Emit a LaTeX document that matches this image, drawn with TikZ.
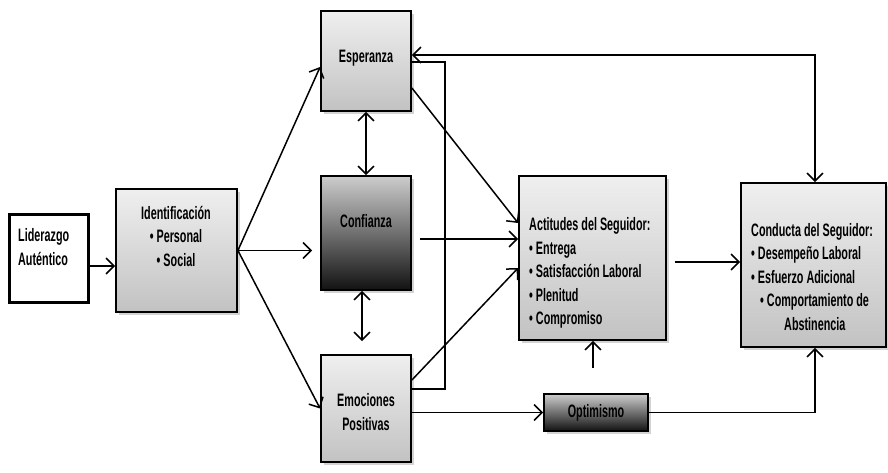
\documentclass[tikz,border=0pt]{standalone}
\usepackage{fontspec}
\setmainfont{Liberation Sans}[FakeStretch=0.6]
\usetikzlibrary{arrows.meta,shadows,calc}
\definecolor{lt}{HTML}{EFEFEF}
\definecolor{lb}{HTML}{C2C2C2}
\definecolor{dt}{HTML}{CDCDCD}
\definecolor{db}{HTML}{121212}
\begin{document}
\begin{tikzpicture}[x=1pt,y=-1pt,
  box/.style={draw=black, line width=1.8pt, inner sep=0pt, top color=lt, bottom color=lb,
    drop shadow={shadow xshift=2.5pt,shadow yshift=-2.5pt,opacity=0.35}},
  darkbox/.style={box, top color=dt, bottom color=db},
  lidbox/.style={draw=black, line width=3.2pt, fill=white, inner sep=0pt},
  txt/.style={font=\bfseries\fontsize{18}{23.5}\selectfont, inner sep=0pt},
  arr/.style={line width=1.5pt, -{Straight Barb[length=8pt,width=16pt]}},
  darr/.style={line width=1.5pt, {Straight Barb[length=8pt,width=16pt]}-{Straight Barb[length=8pt,width=16pt]}},
  ln/.style={line width=1.5pt}]
\useasboundingbox (0,0) rectangle (888,472);
% boxes
\node[lidbox, minimum width=79pt, minimum height=88pt] (lid) at (49,258.5) {};
\node[box, minimum width=121pt, minimum height=123pt] (id) at (176.5,250.5) {};
\node[box, minimum width=90pt, minimum height=100pt] (esp) at (366,61) {};
\node[darkbox, minimum width=90pt, minimum height=114pt] (con) at (366,233) {};
\node[box, minimum width=90pt, minimum height=107pt] (emo) at (366,408.5) {};
\node[box, minimum width=147pt, minimum height=164pt] (act) at (592.5,258) {};
\node[box, minimum width=145pt, minimum height=164pt] (cond) at (813.5,265) {};
\node[darkbox, minimum width=104pt, minimum height=37pt] (opt) at (596,412.5) {};
% texts
\node[txt, align=left, anchor=west] (lidT) at (18,247) {Liderazgo\\Auténtico};
\node[txt, align=center] (idT) at (176,236) {Identificación\\• Personal\\• Social};
\node[txt] (espT) at (366,58.5) {Esperanza};
\node[txt] (conT) at (366,221.5) {Confianza};
\node[txt, align=center] (emoT) at (366,412) {Emociones\\Positivas};
\node[txt, align=left, anchor=west] (actT) at (529,273) {Actitudes del Seguidor:\\• Entrega\\• Satisfacción Laboral\\• Plenitud\\• Compromiso};
\node[txt, align=left, anchor=west] (condT) at (751,277) {Conducta del Seguidor:\\• Desempeño Laboral\\• Esfuerzo Adicional\\\hspace*{9pt}• Comportamiento de\\\hspace*{33pt}Abstinencia};
\node[txt] (optT) at (596,413) {Optimismo};
% connectors
\coordinate (a1) at ([yshift=-7.5pt]lid.east);
\draw[arr] (a1) -- (a1 -| id.west);
\draw[arr] (id.east) -- ([yshift=-6pt]esp.west);
\coordinate (c1) at ([xshift=-8pt]con.west);
\draw[arr] (id.east) -- (id.east -| c1);
\draw[arr] (id.east) -- (emo.west);
\draw[darr] (esp.south) -- (con.north);
\draw[darr] ([xshift=-4pt]con.south) -- ([xshift=-4pt,yshift=13pt]emo.north);
\draw[arr] ([yshift=-27pt]esp.east) -- ([yshift=35pt]act.west);
\coordinate (c2) at ([xshift=8pt,yshift=-6pt]con.east);
\draw[arr] (c2) -- (c2 -| act.west);
\draw[arr] ([yshift=28.5pt]emo.east) -- ([yshift=-10pt]act.west);
\draw[ln] ([yshift=19.5pt]emo.east) -| ([xshift=33pt,yshift=-1pt]esp.east) -- ([yshift=-1pt]esp.east);
\draw[darr] ([yshift=6pt]esp.east) -| ([xshift=1.5pt]cond.north);
\coordinate (c3) at ([xshift=8pt,yshift=-4pt]act.east);
\draw[arr] (c3) -- (c3 -| cond.west);
\draw[arr] (emo.east |- opt.west) -- (opt.west);
\draw[arr] (opt.east) -| ([xshift=1.5pt]cond.south);
\coordinate (q) at (593,368);
\draw[arr] (q) -- (q |- act.south);
\end{tikzpicture}
\end{document}
